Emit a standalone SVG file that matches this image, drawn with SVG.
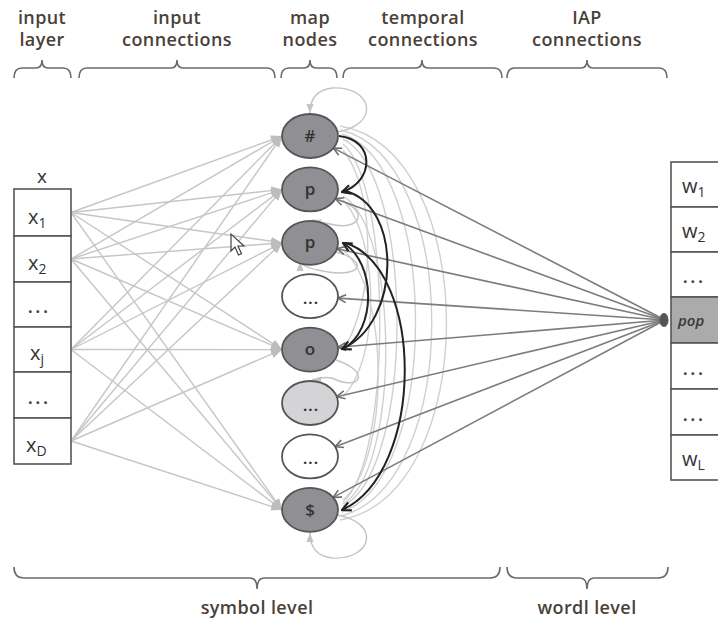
<svg xmlns="http://www.w3.org/2000/svg" width="718" height="622" viewBox="0 0 718 622">
<style>
.lbl{font-family:"Open Sans","Liberation Sans",sans-serif;font-size:18px;font-weight:600;fill:#4a4138;text-anchor:middle;letter-spacing:0.4px}
.brace{fill:none;stroke:#6a6a6a;stroke-width:1.6}
.box{fill:#fff;stroke:#555;stroke-width:1.6}
.cell{font-family:"Open Sans","Liberation Sans",sans-serif;font-size:20px;font-weight:500;fill:#333}
.sub{font-size:14px}
.dots{font-family:"Open Sans","Liberation Sans",sans-serif;font-size:16px;font-weight:700;fill:#444;letter-spacing:3px}
.node{stroke:#555;stroke-width:1.8}
.dark{fill:#8f8f94}
.light{fill:#d4d4d6}
.white{fill:#fff}
.ntxt{font-family:"Open Sans","Liberation Sans",sans-serif;font-size:17px;font-weight:600;fill:#333;text-anchor:middle}
.ndots{font-family:"Open Sans","Liberation Sans",sans-serif;font-size:15px;font-weight:700;fill:#333;text-anchor:middle;letter-spacing:1px}
.inp{stroke:#c6c6c6;stroke-width:1.4;fill:none;marker-end:url(#ai)}
.iap{stroke:#7c7c7c;stroke-width:1.6;fill:none;marker-end:url(#ag)}
.tlt{stroke:#d0d0d0;stroke-width:1.4;fill:none}
.tlp{stroke:#c4c4c4;stroke-width:1.4;fill:none;marker-end:url(#al)}
.tbk{stroke:#222;stroke-width:2;fill:none;marker-end:url(#ab)}
</style>
<defs>
<marker id="ai" viewBox="0 0 10 10" refX="10" refY="5" markerWidth="11" markerHeight="11" markerUnits="userSpaceOnUse" orient="auto"><path d="M0,1 L10,5 L0,9 z" fill="#bdbdbd"/></marker>
<marker id="al" viewBox="0 0 10 10" refX="10" refY="5" markerWidth="9" markerHeight="9" markerUnits="userSpaceOnUse" orient="auto"><path d="M0,1 L10,5 L0,9 z" fill="#c4c4c4"/></marker>
<marker id="ag" viewBox="0 0 10 10" refX="9" refY="5" markerWidth="10" markerHeight="10" markerUnits="userSpaceOnUse" orient="auto"><path d="M1,1 L9,5 L1,9" fill="none" stroke="#6e6e6e" stroke-width="1.6"/></marker>
<marker id="ab" viewBox="0 0 10 10" refX="9" refY="5" markerWidth="11" markerHeight="11" markerUnits="userSpaceOnUse" orient="auto"><path d="M1,1 L9,5 L1,9" fill="none" stroke="#222" stroke-width="2"/></marker>
</defs>
<rect width="718" height="622" fill="#fff"/>

<g id="labels-top">
<text class="lbl" x="42" y="24">input</text><text class="lbl" x="42" y="46">layer</text>
<text class="lbl" x="177" y="24">input</text><text class="lbl" x="177" y="46">connections</text>
<text class="lbl" x="310" y="24">map</text><text class="lbl" x="310" y="46">nodes</text>
<text class="lbl" x="423" y="24">temporal</text><text class="lbl" x="423" y="46">connections</text>
<text class="lbl" x="587" y="24">IAP</text><text class="lbl" x="587" y="46">connections</text>
</g>
<g id="braces">
<path class="brace" d="M14,78 Q14,68 22,68 L36,68 Q42,68 42,60 Q42,68 48,68 L63,68 Q71,68 71,78"/>
<path class="brace" d="M79,78 Q79,68 87,68 L171,68 Q177,68 177,60 Q177,68 183,68 L267,68 Q275,68 275,78"/>
<path class="brace" d="M281,78 Q281,68 289,68 L304,68 Q310,68 310,60 Q310,68 316,68 L329,68 Q337,68 337,78"/>
<path class="brace" d="M343,78 Q343,68 351,68 L416,68 Q422,68 422,60 Q422,68 428,68 L494,68 Q502,68 502,78"/>
<path class="brace" d="M507,78 Q507,68 515,68 L581,68 Q587,68 587,60 Q587,68 593,68 L659,68 Q667,68 667,78"/>
<path class="brace" d="M14,567 Q14,578 24,578 L250,578 Q257,578 257,589 Q257,578 264,578 L490,578 Q500,578 500,567"/>
<path class="brace" d="M507,567 Q507,578 517,578 L580,578 Q587,578 587,589 Q587,578 594,578 L658,578 Q668,578 668,567"/>
</g>
<g id="labels-bottom">
<text class="lbl" x="257" y="614">symbol level</text>
<text class="lbl" x="587" y="614">wordl level</text>
</g>

<g id="connectors">
<g id="input-connections">
<path class="inp" d="M71,212.5 L282,136"/><path class="inp" d="M71,212.5 L282,189.4"/><path class="inp" d="M71,212.5 L282,242.8"/><path class="inp" d="M71,212.5 L282,349.6"/><path class="inp" d="M71,212.5 L282,509.8"/>
<path class="inp" d="M71,259 L282,136"/><path class="inp" d="M71,259 L282,189.4"/><path class="inp" d="M71,259 L282,242.8"/><path class="inp" d="M71,259 L282,349.6"/><path class="inp" d="M71,259 L282,509.8"/>
<path class="inp" d="M71,349.5 L282,136"/><path class="inp" d="M71,349.5 L282,189.4"/><path class="inp" d="M71,349.5 L282,242.8"/><path class="inp" d="M71,349.5 L282,349.6"/><path class="inp" d="M71,349.5 L282,509.8"/>
<path class="inp" d="M71,441 L282,136"/><path class="inp" d="M71,441 L282,189.4"/><path class="inp" d="M71,441 L282,242.8"/><path class="inp" d="M71,441 L282,349.6"/><path class="inp" d="M71,441 L282,509.8"/>
</g>
<g id="temporal-light">
<path class="tlt" d="M340,126 C482,150 482,495 340,520"/>
<path class="tlt" d="M341,130 C462,160 462,485 341,516"/>
<path class="tlt" d="M342,134 C440,165 440,478 342,512"/>
<path class="tlt" d="M343,139 C415,175 415,470 343,506"/>
<path class="tlt" d="M343,144 C392,185 392,460 343,502"/>
<path class="tlt" d="M343,196 C400,230 400,470 343,504"/>
<path class="tlt" d="M343,250 C390,290 390,460 343,500"/>
<path class="tlt" d="M343,200 C380,240 380,360 343,396"/>
<path class="tlt" d="M343,150 C376,190 376,300 343,350"/>
<path class="tlp" d="M337,132 C382,124 372,86 332,88 C316,90 310,99 310,113"/>
<path class="tlp" d="M337,515 C382,523 372,560 332,558 C316,556 310,547 310,533"/>
<path class="tlp" d="M336,199 C372,210 360,232 330,224 C320,222 315,221 312,220"/>
<path class="tlp" d="M336,252 C372,262 360,280 318,270 C300,266 300,262 300,262"/>
<path class="tlp" d="M336,360 C372,372 360,392 332,378 C320,376 315,380 312,380"/>
</g>
<g id="iap-connections">
<path class="iap" d="M665,320 L333.4,148.1"/>
<path class="iap" d="M665,320 L335.4,198.7"/>
<path class="iap" d="M665,320 L337,248.7"/>
<path class="iap" d="M665,320 L337.9,298.1"/>
<path class="iap" d="M665,320 L337.8,347.3"/>
<path class="iap" d="M665,320 L336.8,396.7"/>
<path class="iap" d="M665,320 L335.2,446.7"/>
<path class="iap" d="M665,320 L333.1,497.4"/>
<ellipse cx="664" cy="320" rx="4.5" ry="7" fill="#555"/>
</g>
<g id="temporal-active">
<path class="tbk" d="M339,136 C376,140 374,182 342,192"/>
<path class="tbk" d="M345,191 C402,205 402,322 342,349"/>
<path class="tbk" d="M343,349 C377,330 376,262 343,243"/>
<path class="tbk" d="M346,243 C425,270 425,472 342,510"/>
</g>
</g>

<g id="node-hash"><ellipse class="node dark" cx="310" cy="136" rx="28" ry="22"/><text class="ntxt" x="310" y="142">#</text></g>
<g id="node-p1"><ellipse class="node dark" cx="310" cy="189.4" rx="28" ry="22"/><text class="ntxt" x="310" y="195">p</text></g>
<g id="node-p2"><ellipse class="node dark" cx="310" cy="242.8" rx="28" ry="22"/><text class="ntxt" x="310" y="248">p</text></g>
<g id="node-d1"><ellipse class="node white" cx="310" cy="296.2" rx="28" ry="22"/><text class="ndots" x="311" y="304">...</text></g>
<g id="node-o"><ellipse class="node dark" cx="310" cy="349.6" rx="28" ry="22"/><text class="ntxt" x="310" y="355">o</text></g>
<g id="node-d2"><ellipse class="node light" cx="310" cy="403" rx="28" ry="22"/><text class="ndots" x="311" y="411">...</text></g>
<g id="node-d3"><ellipse class="node white" cx="310" cy="456.4" rx="28" ry="22"/><text class="ndots" x="311" y="464">...</text></g>
<g id="node-dollar"><ellipse class="node dark" cx="310" cy="509.8" rx="28" ry="22"/><text class="ntxt" x="310" y="516">$</text></g>

<g id="input-layer">
<text class="cell" x="42" y="183" style="text-anchor:middle;font-size:19px">x</text>
<rect class="box" x="14" y="189" width="57" height="47"/>
<rect class="box" x="14" y="236" width="57" height="46"/>
<rect class="box" x="14" y="282" width="57" height="45"/>
<rect class="box" x="14" y="327" width="57" height="45"/>
<rect class="box" x="14" y="372" width="57" height="46"/>
<rect class="box" x="14" y="418" width="57" height="46"/>
<text class="cell" x="28" y="224">x<tspan class="sub" dy="4">1</tspan></text>
<text class="cell" x="28" y="270">x<tspan class="sub" dy="4">2</tspan></text>
<text class="dots" x="28" y="313">...</text>
<text class="cell" x="30" y="360">x<tspan class="sub" dy="4">j</tspan></text>
<text class="dots" x="28" y="404">...</text>
<text class="cell" x="26" y="452">x<tspan class="sub" dy="4">D</tspan></text>
</g>

<g id="word-layer">
<rect class="box" x="671" y="162" width="60" height="45"/>
<rect class="box" x="671" y="207" width="60" height="45"/>
<rect class="box" x="671" y="252" width="60" height="45"/>
<rect class="box" x="671" y="297" width="60" height="46" style="fill:#ababab"/>
<rect class="box" x="671" y="343" width="60" height="46"/>
<rect class="box" x="671" y="389" width="60" height="46"/>
<rect class="box" x="671" y="435" width="60" height="45"/>
<text class="cell" x="682" y="193">w<tspan class="sub" dy="4">1</tspan></text>
<text class="cell" x="682" y="238">w<tspan class="sub" dy="4">2</tspan></text>
<text class="dots" x="683" y="283">...</text>
<text class="cell" x="678" y="326" style="font-size:15px;font-style:italic;font-weight:600;fill:#3a3a3a">pop</text>
<text class="dots" x="683" y="375">...</text>
<text class="dots" x="683" y="421">...</text>
<text class="cell" x="682" y="466">w<tspan class="sub" dy="4">L</tspan></text>
</g>

<g id="cursor"><path d="M231,234 L231,251 L235,247 L238.5,255 L241.5,253.8 L238,246 L244,246 Z" fill="#fff" stroke="#444" stroke-width="1.2"/></g>
</svg>
